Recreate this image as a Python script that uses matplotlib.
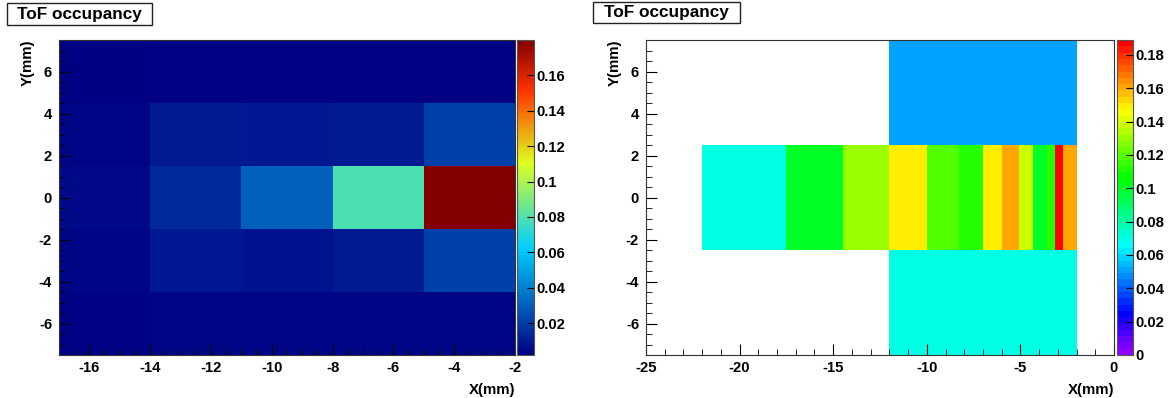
import colorsys
import numpy as np
import matplotlib
matplotlib.use("Agg")
import matplotlib.pyplot as plt
from matplotlib.colors import LinearSegmentedColormap, ListedColormap, Normalize
from matplotlib.patches import Rectangle
from matplotlib.ticker import MultipleLocator

plt.rcParams['font.family'] = ['Liberation Sans', 'DejaVu Sans']
plt.rcParams['font.weight'] = 'bold'
plt.rcParams['axes.unicode_minus'] = False

# left map: 5x5 bins of 3 mm, rows listed bottom to top
left_x_edges = [-17, -14, -11, -8, -5, -2]
left_y_edges = [-7.5, -4.5, -1.5, 1.5, 4.5, 7.5]
left_occ = [
    [0.003, 0.004, 0.004, 0.004, 0.004],
    [0.004, 0.009, 0.008, 0.010, 0.021],
    [0.005, 0.014, 0.030, 0.079, 0.180],
    [0.004, 0.010, 0.009, 0.010, 0.021],
    [0.002, 0.003, 0.003, 0.003, 0.003],
]
left_zmin, left_zmax = 0.002, 0.180

# right map: central strip of narrow bars plus two wide blocks
strip_x_edges = [-22, -17.5, -14.5, -12, -10, -8.3, -7, -6, -5.1, -4.35,
                 -3.65, -3.15, -2.7, -2]
strip_y_edges = [-2.5, 2.5]
strip_occ = [0.070, 0.100, 0.130, 0.149, 0.119, 0.111, 0.149, 0.160,
             0.138, 0.100, 0.111, 0.188, 0.160]
block_x_edges = [-12, -2]
top_block_y = [2.5, 7.5]
top_block_occ = 0.051
bottom_block_y = [-7.5, -2.5]
bottom_block_occ = 0.070
right_zmin, right_zmax = 0.0, 0.189

left_ticks = [0.02, 0.04, 0.06, 0.08, 0.1, 0.12, 0.14, 0.16]
right_ticks = [0, 0.02, 0.04, 0.06, 0.08, 0.1, 0.12, 0.14, 0.16, 0.18]

# ROOT style palettes
rainbow = LinearSegmentedColormap.from_list('tof', [
    (0.00, (0.00, 0.00, 0.51)),
    (0.34, (0.00, 0.81, 1.00)),
    (0.61, (0.87, 1.00, 0.12)),
    (0.84, (1.00, 0.20, 0.00)),
    (1.00, (0.51, 0.00, 0.00)),
], N=255)
pretty = ListedColormap([colorsys.hls_to_rgb((280 - (i + 1) * 5.6) / 360, 0.5, 1.0)
                         for i in range(50)])

W, H = 1175, 398
fig = plt.figure(figsize=(W / 100, H / 100), dpi=100, facecolor='white')


def box(x0, x1, ytop, ybot):
    return [x0 / W, (H - ybot) / H, (x1 - x0) / W, (ybot - ytop) / H]


def style_axes(ax, xmaj, xmin):
    ax.xaxis.set_major_locator(MultipleLocator(xmaj))
    ax.xaxis.set_minor_locator(MultipleLocator(xmin))
    ax.yaxis.set_major_locator(MultipleLocator(2))
    ax.yaxis.set_minor_locator(MultipleLocator(0.5))
    ax.tick_params(which='both', direction='in', top=False, right=False,
                   labelsize=10.7, color='black')
    ax.tick_params(which='major', length=8)
    ax.tick_params(which='minor', length=4.3)
    ax.tick_params(axis='y', pad=5)
    ax.tick_params(axis='x', pad=4)
    for s in ax.spines.values():
        s.set_linewidth(0.8)
        s.set_color('#333333')
    ax.set_xlabel('X(mm)', fontsize=10.8, fontweight='bold', loc='right', labelpad=6)
    ax.set_ylabel('Y(mm)', fontsize=10.8, fontweight='bold', loc='top', labelpad=3)


def style_cbar(cb, ticks):
    cb.set_ticks(ticks)
    cb.set_ticklabels(['%g' % t for t in ticks])
    cb.ax.tick_params(direction='in', length=5, labelsize=10.7, pad=2, color='black')
    cb.ax.minorticks_off()
    cb.outline.set_linewidth(0.8)
    cb.outline.set_edgecolor('#555555')


def title_box(x0, x1, ytop, ybot):
    fig.patches.append(Rectangle((x0 / W, (H - ybot) / H), (x1 - x0) / W,
                                 (ybot - ytop) / H, transform=fig.transFigure,
                                 facecolor='white', edgecolor='#222222', lw=1))
    fig.text((x0 + x1) / 2 / W, (H - (ytop + ybot) / 2) / H, 'ToF occupancy',
             ha='center', va='center', fontsize=12.4, fontweight='bold')


# left panel
ax1 = fig.add_axes(box(59, 515, 40, 355))
norm1 = Normalize(left_zmin, left_zmax)
m1 = ax1.pcolormesh(left_x_edges, left_y_edges, np.array(left_occ), cmap=rainbow, norm=norm1)
ax1.set_xlim(-17, -2)
ax1.set_ylim(-7.5, 7.5)
style_axes(ax1, 2, 0.5)
cax1 = fig.add_axes(box(517, 534, 40, 355))
style_cbar(fig.colorbar(m1, cax=cax1), left_ticks)
title_box(7, 152, 3, 25)

# right panel
ax2 = fig.add_axes(box(646, 1114, 40, 355))
norm2 = Normalize(right_zmin, right_zmax)
m2 = ax2.pcolormesh(strip_x_edges, strip_y_edges, np.array([strip_occ]), cmap=pretty, norm=norm2)
ax2.pcolormesh(block_x_edges, top_block_y, np.array([[top_block_occ]]), cmap=pretty, norm=norm2)
ax2.pcolormesh(block_x_edges, bottom_block_y, np.array([[bottom_block_occ]]), cmap=pretty, norm=norm2)
ax2.set_xlim(-25, 0)
ax2.set_ylim(-7.5, 7.5)
style_axes(ax2, 5, 1)
cax2 = fig.add_axes(box(1117, 1133, 40, 355))
style_cbar(fig.colorbar(m2, cax=cax2), right_ticks)
title_box(593, 740, 2, 23)

fig.savefig('out.png', dpi=100, facecolor='white')
